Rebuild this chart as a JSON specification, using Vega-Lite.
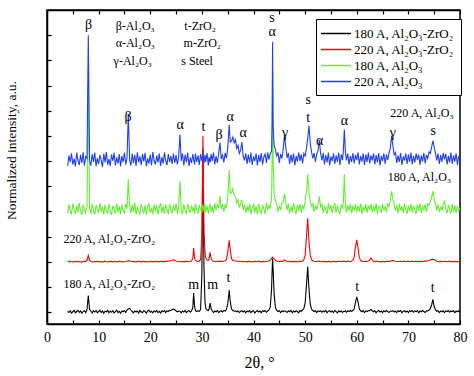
{
"$schema": "https://vega.github.io/schema/vega-lite/v6.json",
"autosize": {"type": "none"},
"padding": {"left": 47, "top": 10, "right": 14, "bottom": 52},
"width": 413,
"height": 314,
"background": "white",
"datasets": {
"xrd": [
{"x":4.0,"k":0.03,"r":2.01,"g":3.92,"b":5.80},
{"x":4.25,"k":-0.02,"r":1.99,"g":4.28,"b":6.22},
{"x":4.5,"k":0.05,"r":2.02,"g":4.05,"b":5.95},
{"x":4.75,"k":-0.04,"r":2.00,"g":3.88,"b":6.31},
{"x":5.0,"k":0.01,"r":1.99,"g":4.31,"b":5.86},
{"x":5.25,"k":0.06,"r":2.01,"g":4.12,"b":6.10},
{"x":5.5,"k":-0.03,"r":2.00,"g":3.90,"b":5.78},
{"x":5.75,"k":0.02,"r":2.02,"g":4.22,"b":6.33},
{"x":6.0,"k":0.07,"r":1.99,"g":3.97,"b":6.02},
{"x":6.25,"k":-0.01,"r":2.01,"g":4.34,"b":5.84},
{"x":6.5,"k":0.04,"r":2.00,"g":4.00,"b":6.25},
{"x":6.75,"k":-0.05,"r":1.98,"g":3.86,"b":5.92},
{"x":7.0,"k":0.02,"r":2.01,"g":4.26,"b":6.35},
{"x":7.25,"k":0.05,"r":2.02,"g":4.08,"b":5.81},
{"x":7.5,"k":-0.02,"r":2.00,"g":3.94,"b":6.18},
{"x":7.75,"k":0.10,"r":2.06,"g":4.20,"b":6.10},
{"x":8.0,"k":0.65,"r":2.25,"g":9.0,"b":11.0},
{"x":8.25,"k":0.10,"r":2.05,"g":4.15,"b":6.00},
{"x":8.5,"k":0.03,"r":2.01,"g":3.90,"b":5.82},
{"x":8.75,"k":-0.04,"r":2.00,"g":4.30,"b":6.28},
{"x":9.0,"k":0.05,"r":1.99,"g":4.02,"b":5.96},
{"x":9.25,"k":0.00,"r":2.01,"g":3.87,"b":6.34},
{"x":9.5,"k":0.06,"r":2.00,"g":4.24,"b":5.79},
{"x":9.75,"k":-0.03,"r":2.02,"g":4.10,"b":6.12},
{"x":10.0,"k":0.02,"r":1.99,"g":3.93,"b":5.88},
{"x":10.25,"k":0.07,"r":2.01,"g":4.33,"b":6.24},
{"x":10.5,"k":-0.02,"r":2.00,"g":3.98,"b":6.04},
{"x":10.75,"k":0.04,"r":1.98,"g":4.18,"b":5.76},
{"x":11.0,"k":-0.05,"r":2.01,"g":3.89,"b":6.30},
{"x":11.25,"k":0.03,"r":2.02,"g":4.27,"b":5.94},
{"x":11.5,"k":0.01,"r":2.00,"g":4.06,"b":6.36},
{"x":11.75,"k":0.06,"r":1.99,"g":3.91,"b":5.85},
{"x":12.0,"k":-0.03,"r":2.01,"g":4.30,"b":6.08},
{"x":12.25,"k":0.04,"r":2.00,"g":4.00,"b":5.80},
{"x":12.5,"k":-0.01,"r":2.02,"g":3.86,"b":6.26},
{"x":12.75,"k":0.05,"r":1.99,"g":4.22,"b":6.00},
{"x":13.0,"k":-0.04,"r":2.01,"g":4.08,"b":6.33},
{"x":13.25,"k":0.02,"r":2.00,"g":3.92,"b":5.83},
{"x":13.5,"k":0.07,"r":2.01,"g":4.32,"b":6.15},
{"x":13.75,"k":-0.02,"r":1.99,"g":3.96,"b":5.90},
{"x":14.0,"k":0.03,"r":2.02,"g":4.20,"b":6.28},
{"x":14.25,"k":-0.05,"r":2.00,"g":3.88,"b":5.78},
{"x":14.5,"k":0.04,"r":2.01,"g":4.26,"b":6.20},
{"x":14.75,"k":0.01,"r":1.99,"g":4.04,"b":5.96},
{"x":15.0,"k":0.06,"r":2.00,"g":3.90,"b":6.34},
{"x":15.25,"k":-0.02,"r":2.02,"g":4.30,"b":5.86},
{"x":15.5,"k":0.08,"r":2.02,"g":4.10,"b":6.12},
{"x":15.75,"k":0.12,"r":2.04,"g":5.27,"b":7.88},
{"x":16.0,"k":0.15,"r":2.04,"g":4.22,"b":6.05},
{"x":16.25,"k":0.08,"r":2.02,"g":3.92,"b":5.82},
{"x":16.5,"k":0.02,"r":2.00,"g":4.28,"b":6.30},
{"x":16.75,"k":-0.03,"r":2.01,"g":3.98,"b":5.92},
{"x":17.0,"k":0.05,"r":1.99,"g":4.34,"b":6.25},
{"x":17.25,"k":0.00,"r":2.01,"g":3.88,"b":5.80},
{"x":17.5,"k":0.04,"r":2.00,"g":4.16,"b":6.35},
{"x":17.75,"k":-0.04,"r":2.02,"g":4.02,"b":5.95},
{"x":18.0,"k":0.06,"r":1.99,"g":3.90,"b":6.18},
{"x":18.25,"k":0.01,"r":2.01,"g":4.30,"b":5.84},
{"x":18.5,"k":-0.03,"r":2.00,"g":4.06,"b":6.28},
{"x":18.75,"k":0.05,"r":2.02,"g":3.94,"b":5.98},
{"x":19.0,"k":0.02,"r":1.99,"g":4.24,"b":6.32},
{"x":19.25,"k":-0.05,"r":2.01,"g":3.87,"b":5.79},
{"x":19.5,"k":0.04,"r":2.00,"g":4.18,"b":6.10},
{"x":19.75,"k":0.07,"r":1.99,"g":4.32,"b":5.90},
{"x":20.0,"k":-0.01,"r":2.02,"g":3.96,"b":6.26},
{"x":20.25,"k":0.03,"r":2.00,"g":4.10,"b":5.82},
{"x":20.5,"k":-0.03,"r":2.01,"g":3.90,"b":6.36},
{"x":20.75,"k":0.05,"r":1.99,"g":4.28,"b":6.02},
{"x":21.0,"k":0.00,"r":2.02,"g":4.00,"b":5.86},
{"x":21.25,"k":0.06,"r":2.00,"g":4.26,"b":6.22},
{"x":21.5,"k":-0.02,"r":2.01,"g":3.88,"b":5.94},
{"x":21.75,"k":0.03,"r":1.99,"g":4.14,"b":6.30},
{"x":22.0,"k":-0.04,"r":2.02,"g":4.33,"b":5.80},
{"x":22.25,"k":0.05,"r":2.00,"g":3.95,"b":6.16},
{"x":22.5,"k":0.01,"r":2.01,"g":4.20,"b":5.90},
{"x":22.75,"k":0.06,"r":2.00,"g":3.90,"b":6.34},
{"x":23.0,"k":-0.02,"r":2.02,"g":4.28,"b":6.00},
{"x":23.25,"k":0.04,"r":2.01,"g":4.04,"b":5.84},
{"x":23.5,"k":0.02,"r":2.02,"g":3.92,"b":6.28},
{"x":23.75,"k":0.07,"r":2.03,"g":4.30,"b":5.96},
{"x":24.0,"k":0.06,"r":2.04,"g":4.06,"b":6.20},
{"x":24.25,"k":0.10,"r":2.05,"g":3.94,"b":5.88},
{"x":24.5,"k":0.12,"r":2.08,"g":4.26,"b":6.30},
{"x":24.75,"k":0.09,"r":2.05,"g":4.00,"b":5.92},
{"x":25.0,"k":0.05,"r":2.03,"g":4.32,"b":6.24},
{"x":25.25,"k":0.01,"r":2.02,"g":3.90,"b":5.86},
{"x":25.5,"k":0.04,"r":2.01,"g":4.18,"b":6.18},
{"x":25.75,"k":0.03,"r":2.00,"g":5.20,"b":7.05},
{"x":26.0,"k":-0.03,"r":2.01,"g":4.06,"b":6.00},
{"x":26.25,"k":0.04,"r":1.99,"g":3.88,"b":6.30},
{"x":26.5,"k":0.00,"r":2.01,"g":4.28,"b":5.82},
{"x":26.75,"k":0.06,"r":2.00,"g":4.02,"b":6.26},
{"x":27.0,"k":-0.02,"r":2.02,"g":3.92,"b":5.94},
{"x":27.25,"k":0.03,"r":2.01,"g":4.30,"b":6.34},
{"x":27.5,"k":0.05,"r":2.00,"g":4.10,"b":5.80},
{"x":27.75,"k":-0.01,"r":2.02,"g":3.94,"b":6.14},
{"x":28.0,"k":0.04,"r":2.03,"g":4.24,"b":5.92},
{"x":28.25,"k":0.18,"r":2.14,"g":4.00,"b":6.28},
{"x":28.4,"k":0.75,"r":2.54,"g":4.16,"b":6.06},
{"x":28.6,"k":0.20,"r":2.14,"g":3.90,"b":5.86},
{"x":28.75,"k":0.06,"r":2.04,"g":4.30,"b":6.30},
{"x":29.0,"k":0.02,"r":2.02,"g":4.04,"b":5.96},
{"x":29.25,"k":0.05,"r":2.01,"g":3.92,"b":6.22},
{"x":29.5,"k":0.03,"r":2.03,"g":4.26,"b":5.84},
{"x":29.75,"k":0.10,"r":2.08,"g":4.08,"b":6.28},
{"x":30.0,"k":1.5,"r":3.0,"g":3.94,"b":6.00},
{"x":30.2,"k":6.5,"r":7.0,"g":4.28,"b":6.30},
{"x":30.4,"k":1.8,"r":3.2,"g":4.02,"b":5.90},
{"x":30.6,"k":0.40,"r":2.40,"g":4.30,"b":6.24},
{"x":30.75,"k":0.15,"r":2.15,"g":3.96,"b":5.96},
{"x":31.0,"k":0.08,"r":2.06,"g":4.22,"b":6.32},
{"x":31.25,"k":0.06,"r":2.05,"g":3.90,"b":5.82},
{"x":31.4,"k":0.12,"r":2.12,"g":4.14,"b":6.16},
{"x":31.6,"k":0.35,"r":2.37,"g":4.30,"b":5.94},
{"x":31.8,"k":0.12,"r":2.12,"g":3.98,"b":6.28},
{"x":32.0,"k":0.05,"r":2.04,"g":4.20,"b":6.00},
{"x":32.25,"k":-0.02,"r":2.02,"g":3.92,"b":6.34},
{"x":32.5,"k":0.04,"r":2.01,"g":4.32,"b":5.86},
{"x":32.75,"k":0.01,"r":2.00,"g":4.06,"b":6.20},
{"x":33.0,"k":0.06,"r":2.01,"g":4.26,"b":5.92},
{"x":33.25,"k":-0.02,"r":2.02,"g":4.15,"b":6.30},
{"x":33.5,"k":0.03,"r":2.01,"g":4.60,"b":6.73},
{"x":33.75,"k":0.05,"r":2.02,"g":4.10,"b":6.08},
{"x":34.0,"k":0.00,"r":2.01,"g":4.30,"b":6.26},
{"x":34.25,"k":0.06,"r":2.03,"g":3.98,"b":5.94},
{"x":34.5,"k":0.04,"r":2.04,"g":4.26,"b":6.32},
{"x":34.75,"k":0.10,"r":2.08,"g":4.12,"b":6.10},
{"x":35.0,"k":0.30,"r":2.35,"g":4.55,"b":6.50},
{"x":35.3,"k":0.87,"r":2.85,"g":5.64,"b":7.44},
{"x":35.5,"k":0.40,"r":2.45,"g":4.70,"b":6.75},
{"x":35.75,"k":0.12,"r":2.12,"g":4.75,"b":6.80},
{"x":36.0,"k":0.06,"r":2.05,"g":4.90,"b":6.95},
{"x":36.25,"k":0.03,"r":2.04,"g":4.65,"b":6.72},
{"x":36.5,"k":0.05,"r":2.03,"g":4.60,"b":6.85},
{"x":36.75,"k":0.01,"r":2.02,"g":4.35,"b":6.50},
{"x":37.0,"k":0.04,"r":2.02,"g":4.45,"b":6.62},
{"x":37.25,"k":-0.02,"r":2.01,"g":4.15,"b":6.30},
{"x":37.5,"k":0.03,"r":2.00,"g":4.30,"b":6.42},
{"x":37.75,"k":0.05,"r":2.02,"g":4.45,"b":6.75},
{"x":38.0,"k":0.00,"r":2.01,"g":4.05,"b":6.20},
{"x":38.25,"k":0.05,"r":2.00,"g":4.28,"b":6.02},
{"x":38.5,"k":-0.03,"r":2.01,"g":3.94,"b":6.30},
{"x":38.75,"k":0.04,"r":1.99,"g":4.20,"b":5.88},
{"x":39.0,"k":0.01,"r":2.02,"g":4.00,"b":6.26},
{"x":39.25,"k":0.06,"r":2.00,"g":4.32,"b":5.94},
{"x":39.5,"k":-0.02,"r":2.01,"g":3.90,"b":6.34},
{"x":39.75,"k":0.03,"r":2.00,"g":4.16,"b":5.84},
{"x":40.0,"k":0.05,"r":1.99,"g":4.28,"b":6.18},
{"x":40.25,"k":-0.04,"r":2.02,"g":3.96,"b":6.00},
{"x":40.5,"k":0.02,"r":2.00,"g":4.22,"b":6.30},
{"x":40.75,"k":0.06,"r":2.01,"g":3.88,"b":5.82},
{"x":41.0,"k":0.00,"r":2.02,"g":4.30,"b":6.24},
{"x":41.25,"k":0.04,"r":2.00,"g":4.04,"b":5.96},
{"x":41.5,"k":-0.03,"r":2.01,"g":3.92,"b":6.32},
{"x":41.75,"k":0.05,"r":1.99,"g":4.26,"b":5.86},
{"x":42.0,"k":0.02,"r":2.02,"g":4.10,"b":6.16},
{"x":42.25,"k":0.06,"r":2.00,"g":3.90,"b":6.28},
{"x":42.5,"k":-0.01,"r":2.01,"g":4.32,"b":5.92},
{"x":42.75,"k":0.04,"r":2.02,"g":4.06,"b":6.34},
{"x":43.0,"k":0.08,"r":2.03,"g":4.25,"b":6.05},
{"x":43.25,"k":0.20,"r":2.06,"g":4.10,"b":6.30},
{"x":43.5,"k":0.9,"r":2.12,"g":4.50,"b":6.40},
{"x":43.6,"k":1.6,"r":2.16,"g":6.0,"b":7.5},
{"x":43.7,"k":2.13,"r":2.18,"g":9.6,"b":10.74},
{"x":43.8,"k":1.7,"r":2.15,"g":6.0,"b":7.4},
{"x":44.0,"k":0.70,"r":2.10,"g":4.70,"b":6.60},
{"x":44.25,"k":0.18,"r":2.05,"g":4.40,"b":6.45},
{"x":44.5,"k":0.06,"r":2.02,"g":4.28,"b":6.20},
{"x":44.75,"k":0.02,"r":2.01,"g":3.98,"b":6.34},
{"x":45.0,"k":0.05,"r":2.00,"g":4.22,"b":5.92},
{"x":45.25,"k":-0.02,"r":2.02,"g":4.05,"b":6.28},
{"x":45.5,"k":0.04,"r":2.01,"g":4.34,"b":6.10},
{"x":45.75,"k":0.02,"r":2.03,"g":4.35,"b":6.45},
{"x":46.0,"k":0.05,"r":2.07,"g":4.70,"b":7.02},
{"x":46.25,"k":0.03,"r":2.04,"g":4.40,"b":6.55},
{"x":46.5,"k":-0.02,"r":2.01,"g":4.05,"b":6.12},
{"x":46.75,"k":0.05,"r":2.00,"g":4.30,"b":6.32},
{"x":47.0,"k":0.01,"r":2.02,"g":3.92,"b":5.88},
{"x":47.25,"k":0.06,"r":2.00,"g":4.20,"b":6.26},
{"x":47.5,"k":-0.03,"r":2.01,"g":3.96,"b":5.94},
{"x":47.75,"k":0.04,"r":1.99,"g":4.32,"b":6.30},
{"x":48.0,"k":0.00,"r":2.02,"g":4.08,"b":5.82},
{"x":48.25,"k":0.05,"r":2.00,"g":3.90,"b":6.20},
{"x":48.5,"k":0.02,"r":2.01,"g":4.26,"b":5.98},
{"x":48.75,"k":-0.03,"r":2.00,"g":4.02,"b":6.34},
{"x":49.0,"k":0.06,"r":2.02,"g":4.30,"b":6.00},
{"x":49.25,"k":0.03,"r":2.01,"g":3.94,"b":6.26},
{"x":49.5,"k":0.08,"r":2.03,"g":4.22,"b":5.90},
{"x":49.75,"k":0.14,"r":2.08,"g":4.10,"b":6.30},
{"x":50.0,"k":0.35,"r":2.25,"g":4.40,"b":6.20},
{"x":50.25,"k":1.05,"r":2.95,"g":4.80,"b":6.50},
{"x":50.5,"k":1.80,"r":3.72,"g":5.47,"b":6.90},
{"x":50.75,"k":0.90,"r":2.80,"g":4.75,"b":7.41},
{"x":51.0,"k":0.30,"r":2.25,"g":4.40,"b":6.70},
{"x":51.25,"k":0.12,"r":2.08,"g":4.20,"b":6.35},
{"x":51.5,"k":0.06,"r":2.04,"g":4.30,"b":6.10},
{"x":51.75,"k":0.02,"r":2.02,"g":3.98,"b":6.32},
{"x":52.0,"k":0.05,"r":2.01,"g":4.24,"b":5.96},
{"x":52.25,"k":-0.02,"r":2.00,"g":4.06,"b":6.28},
{"x":52.5,"k":0.04,"r":2.01,"g":4.30,"b":6.40},
{"x":52.75,"k":0.02,"r":2.02,"g":4.60,"b":6.85},
{"x":53.0,"k":0.05,"r":2.01,"g":4.15,"b":6.30},
{"x":53.25,"k":-0.01,"r":2.00,"g":4.28,"b":6.02},
{"x":53.5,"k":0.04,"r":2.02,"g":3.94,"b":6.32},
{"x":53.75,"k":0.01,"r":2.00,"g":4.22,"b":5.86},
{"x":54.0,"k":0.06,"r":2.01,"g":4.04,"b":6.24},
{"x":54.25,"k":-0.03,"r":1.99,"g":3.90,"b":5.94},
{"x":54.5,"k":0.03,"r":2.02,"g":4.32,"b":6.34},
{"x":54.75,"k":0.05,"r":2.00,"g":4.06,"b":5.82},
{"x":55.0,"k":0.00,"r":2.01,"g":4.26,"b":6.18},
{"x":55.25,"k":0.04,"r":1.99,"g":3.92,"b":6.00},
{"x":55.5,"k":-0.02,"r":2.02,"g":4.18,"b":6.30},
{"x":55.75,"k":0.06,"r":2.00,"g":4.30,"b":5.88},
{"x":56.0,"k":0.02,"r":2.01,"g":3.96,"b":6.22},
{"x":56.25,"k":-0.04,"r":2.00,"g":4.24,"b":5.96},
{"x":56.5,"k":0.05,"r":2.02,"g":4.02,"b":6.34},
{"x":56.75,"k":0.01,"r":2.01,"g":3.90,"b":5.84},
{"x":57.0,"k":0.04,"r":2.00,"g":4.28,"b":6.26},
{"x":57.25,"k":-0.02,"r":2.02,"g":4.10,"b":6.04},
{"x":57.4,"k":0.03,"r":2.01,"g":4.35,"b":6.40},
{"x":57.6,"k":0.02,"r":2.02,"g":5.47,"b":7.25},
{"x":57.8,"k":0.05,"r":2.00,"g":4.30,"b":6.35},
{"x":58.0,"k":-0.01,"r":2.01,"g":3.96,"b":6.02},
{"x":58.25,"k":0.04,"r":2.02,"g":4.26,"b":6.30},
{"x":58.5,"k":0.02,"r":2.00,"g":4.02,"b":5.86},
{"x":58.75,"k":0.06,"r":2.01,"g":4.30,"b":6.20},
{"x":59.0,"k":0.03,"r":2.03,"g":3.92,"b":5.96},
{"x":59.25,"k":0.06,"r":2.06,"g":4.20,"b":6.32},
{"x":59.5,"k":0.12,"r":2.18,"g":4.05,"b":5.90},
{"x":59.75,"k":0.38,"r":2.60,"g":4.28,"b":6.24},
{"x":60.0,"k":0.60,"r":2.87,"g":3.96,"b":6.04},
{"x":60.25,"k":0.40,"r":2.55,"g":4.22,"b":6.34},
{"x":60.5,"k":0.12,"r":2.16,"g":4.00,"b":5.86},
{"x":60.75,"k":0.05,"r":2.05,"g":4.32,"b":6.20},
{"x":61.0,"k":0.01,"r":2.02,"g":3.90,"b":5.98},
{"x":61.25,"k":0.06,"r":2.01,"g":4.18,"b":6.30},
{"x":61.5,"k":-0.02,"r":2.00,"g":4.02,"b":5.84},
{"x":61.75,"k":0.04,"r":2.02,"g":4.30,"b":6.26},
{"x":62.0,"k":0.02,"r":2.01,"g":3.94,"b":5.96},
{"x":62.25,"k":0.06,"r":2.03,"g":4.24,"b":6.34},
{"x":62.5,"k":0.05,"r":2.06,"g":4.06,"b":5.90},
{"x":62.75,"k":0.10,"r":2.15,"g":4.30,"b":6.22},
{"x":63.0,"k":0.05,"r":2.06,"g":3.96,"b":6.02},
{"x":63.25,"k":0.01,"r":2.02,"g":4.20,"b":6.30},
{"x":63.5,"k":0.05,"r":2.00,"g":4.00,"b":5.86},
{"x":63.75,"k":-0.03,"r":2.01,"g":4.32,"b":6.24},
{"x":64.0,"k":0.03,"r":2.02,"g":3.90,"b":5.94},
{"x":64.25,"k":0.06,"r":2.00,"g":4.24,"b":6.32},
{"x":64.5,"k":0.00,"r":2.01,"g":4.08,"b":5.82},
{"x":64.75,"k":0.04,"r":1.99,"g":3.94,"b":6.20},
{"x":65.0,"k":-0.02,"r":2.02,"g":4.30,"b":6.00},
{"x":65.25,"k":0.05,"r":2.00,"g":4.04,"b":6.30},
{"x":65.5,"k":0.01,"r":2.01,"g":4.22,"b":5.88},
{"x":65.75,"k":0.06,"r":2.00,"g":3.96,"b":6.26},
{"x":66.0,"k":0.02,"r":2.02,"g":4.30,"b":6.04},
{"x":66.25,"k":-0.02,"r":2.01,"g":4.20,"b":6.32},
{"x":66.5,"k":0.04,"r":2.02,"g":4.45,"b":6.50},
{"x":66.75,"k":0.03,"r":2.04,"g":4.80,"b":7.00},
{"x":67.0,"k":0.05,"r":2.05,"g":4.50,"b":6.60},
{"x":67.25,"k":0.00,"r":2.03,"g":4.30,"b":6.25},
{"x":67.5,"k":0.04,"r":2.02,"g":4.02,"b":6.34},
{"x":67.75,"k":-0.02,"r":2.01,"g":4.26,"b":5.92},
{"x":68.0,"k":0.05,"r":2.00,"g":3.92,"b":6.22},
{"x":68.25,"k":0.02,"r":2.01,"g":4.30,"b":5.96},
{"x":68.5,"k":0.06,"r":2.02,"g":4.04,"b":6.32},
{"x":68.75,"k":-0.03,"r":2.00,"g":4.20,"b":5.84},
{"x":69.0,"k":0.03,"r":2.01,"g":3.94,"b":6.18},
{"x":69.25,"k":0.05,"r":2.02,"g":4.32,"b":6.02},
{"x":69.5,"k":0.00,"r":2.00,"g":4.08,"b":6.30},
{"x":69.75,"k":0.04,"r":2.01,"g":3.90,"b":5.88},
{"x":70.0,"k":-0.02,"r":2.02,"g":4.24,"b":6.26},
{"x":70.25,"k":0.05,"r":2.00,"g":4.00,"b":5.96},
{"x":70.5,"k":0.02,"r":2.01,"g":4.30,"b":6.34},
{"x":70.75,"k":0.06,"r":2.02,"g":3.96,"b":5.86},
{"x":71.0,"k":-0.01,"r":2.00,"g":4.22,"b":6.20},
{"x":71.25,"k":0.04,"r":2.01,"g":4.06,"b":5.94},
{"x":71.5,"k":0.02,"r":2.02,"g":3.90,"b":6.30},
{"x":71.75,"k":0.05,"r":2.00,"g":4.28,"b":6.04},
{"x":72.0,"k":-0.03,"r":2.01,"g":4.02,"b":6.26},
{"x":72.25,"k":0.04,"r":2.02,"g":4.32,"b":5.84},
{"x":72.5,"k":0.01,"r":2.00,"g":3.94,"b":6.22},
{"x":72.75,"k":0.06,"r":2.01,"g":4.20,"b":5.98},
{"x":73.0,"k":0.02,"r":2.02,"g":4.06,"b":6.32},
{"x":73.25,"k":-0.02,"r":2.03,"g":4.28,"b":5.90},
{"x":73.5,"k":0.05,"r":2.02,"g":3.98,"b":6.24},
{"x":73.75,"k":0.04,"r":2.04,"g":4.30,"b":6.10},
{"x":74.0,"k":0.08,"r":2.05,"g":4.24,"b":6.36},
{"x":74.25,"k":0.14,"r":2.07,"g":4.40,"b":6.30},
{"x":74.5,"k":0.28,"r":2.09,"g":4.55,"b":6.55},
{"x":74.75,"k":0.50,"r":2.10,"g":4.80,"b":6.80},
{"x":75.0,"k":0.22,"r":2.08,"g":4.50,"b":6.55},
{"x":75.25,"k":0.08,"r":2.05,"g":4.30,"b":6.30},
{"x":75.5,"k":0.03,"r":2.02,"g":4.04,"b":6.02},
{"x":75.75,"k":0.05,"r":2.01,"g":4.28,"b":6.30},
{"x":76.0,"k":-0.02,"r":2.00,"g":3.96,"b":5.88},
{"x":76.25,"k":0.04,"r":2.02,"g":4.20,"b":6.24},
{"x":76.5,"k":0.01,"r":2.01,"g":4.02,"b":5.96},
{"x":76.75,"k":0.05,"r":2.00,"g":4.30,"b":6.32},
{"x":77.0,"k":-0.02,"r":2.02,"g":4.40,"b":6.06},
{"x":77.25,"k":0.04,"r":2.01,"g":4.10,"b":6.28},
{"x":77.5,"k":0.02,"r":2.00,"g":3.92,"b":5.86},
{"x":77.75,"k":0.06,"r":2.01,"g":4.26,"b":6.20},
{"x":78.0,"k":-0.01,"r":2.02,"g":4.04,"b":5.94},
{"x":78.25,"k":0.04,"r":2.00,"g":3.90,"b":6.34},
{"x":78.5,"k":0.02,"r":2.01,"g":4.30,"b":5.88},
{"x":78.75,"k":0.05,"r":1.99,"g":4.00,"b":6.22},
{"x":79.0,"k":-0.03,"r":2.02,"g":4.24,"b":5.98},
{"x":79.25,"k":0.04,"r":2.00,"g":3.94,"b":6.30},
{"x":79.5,"k":0.01,"r":2.01,"g":4.22,"b":5.84},
{"x":79.75,"k":0.05,"r":2.00,"g":4.02,"b":6.20},
{"x":80.0,"k":0.00,"r":2.01,"g":4.14,"b":6.00}
],
"peaks": [
{"x":8.05,"y":11.4,"t":"β"},
{"x":15.7,"y":7.74,"t":"β"},
{"x":25.8,"y":7.43,"t":"α"},
{"x":30.3,"y":7.37,"t":"t"},
{"x":33.35,"y":7.04,"t":"β"},
{"x":35.5,"y":7.76,"t":"α"},
{"x":38.0,"y":7.1,"t":"α"},
{"x":43.6,"y":11.7,"t":"s"},
{"x":43.6,"y":11.12,"t":"α"},
{"x":46.1,"y":7.1,"t":"γ"},
{"x":50.6,"y":8.43,"t":"s"},
{"x":50.6,"y":7.7,"t":"t"},
{"x":52.8,"y":6.81,"t":"α"},
{"x":57.6,"y":7.6,"t":"α"},
{"x":67.0,"y":7.13,"t":"γ"},
{"x":74.8,"y":7.2,"t":"s"},
{"x":28.4,"y":1.08,"t":"m"},
{"x":32.1,"y":1.08,"t":"m"},
{"x":35.15,"y":1.35,"t":"t"},
{"x":60.07,"y":0.98,"t":"t"},
{"x":74.7,"y":0.94,"t":"t"}
],
"phases": [
{"x":13.3,"y":11.35,"t":"β-Al₂O₃"},
{"x":13.3,"y":10.67,"t":"α-Al₂O₃"},
{"x":12.9,"y":9.98,"t":"γ-Al₂O₃"},
{"x":26.6,"y":11.35,"t":"t-ZrO₂"},
{"x":26.45,"y":10.67,"t":"m-ZrO₂"},
{"x":26.0,"y":9.98,"t":"s Steel"}
],
"series": [
{"x":66.5,"y":7.9,"t":"220 A, Al₂O₃"},
{"x":66.0,"y":5.38,"t":"180 A, Al₂O₃"},
{"x":3.2,"y":2.9,"t":"220 A, Al₂O₃-ZrO₂"},
{"x":3.2,"y":1.13,"t":"180 A, Al₂O₃-ZrO₂"}
]
},
"layer": [
{
"data": {"name": "xrd"},
"transform": [{"fold": ["k", "r", "g", "b"], "as": ["s", "y"]}],
"mark": {"type": "line", "strokeWidth": 1.1, "clip": true},
"encoding": {
"x": {"field": "x", "type": "quantitative", "scale": {"domain": [0, 80], "nice": false},
"axis": {"orient": "bottom", "values": [0,5,10,15,20,25,30,35,40,45,50,55,60,65,70,75,80], "labelExpr": "datum.value % 10 === 0 ? datum.label : ''", "tickSize": -4, "labelPadding": 10, "labelFontSize": 14, "labelFlush": false, "title": "2θ, °", "titleFontSize": 16, "titleX": 212, "titleY": 38, "titleBaseline": "middle"}},
"y": {"field": "y", "type": "quantitative", "scale": {"domain": [-0.476, 12.0], "nice": false, "zero": false},
"axis": {"values": [0,1,2,3,4,5,6,7,8,9,10,11], "labels": false, "tickSize": -4, "title": "Normalized intensity, a.u.", "titleFontSize": 13.5, "titleX": -36, "titleY": 140, "titleBaseline": "middle", "titleAngle": -90}},
"color": {"field": "s", "type": "nominal",
"scale": {"domain": ["k", "r", "g", "b"], "range": ["#000000", "#ff0000", "#66ee33", "#2040ee"]},
"legend": {"orient": "none", "legendX": 269, "legendY": 9, "title": null,
"labelExpr": "{'k':'180 A, Al₂O₃-ZrO₂','r':'220 A, Al₂O₃-ZrO₂','g':'180 A, Al₂O₃','b':'220 A, Al₂O₃'}[datum.label]",
"strokeColor": "black", "fillColor": "white", "padding": 6, "symbolType": "M-2,0H2", "symbolSize": 225, "symbolStrokeWidth": 1.5, "symbolOffset": 5.5, "labelFont": "Liberation Serif", "labelFontSize": 13, "labelColor": "black", "rowPadding": 0, "labelOffset": 9.5}}
}
},
{
"data": {"name": "peaks"},
"mark": {"type": "text", "font": "Liberation Serif", "fontSize": 14, "align": "center", "baseline": "middle", "color": "black"},
"encoding": {
"x": {"field": "x", "type": "quantitative",
"axis": {"orient": "top", "values": [0,5,10,15,20,25,30,35,40,45,50,55,60,65,70,75,80], "labels": false, "tickSize": -4, "title": null}},
"y": {"field": "y", "type": "quantitative",
"axis": {"values": [0,1,2,3,4,5,6,7,8,9,10,11], "labels": false, "tickSize": -4, "title": "Normalized intensity, a.u.", "titleFontSize": 13.5, "titleX": -36, "titleY": 140, "titleBaseline": "middle", "titleAngle": -90}},
"text": {"field": "t"}
}
},
{
"data": {"name": "phases"},
"mark": {"type": "text", "font": "Liberation Serif", "fontSize": 12, "align": "left", "baseline": "middle", "color": "black"},
"encoding": {
"x": {"field": "x", "type": "quantitative", "axis": null},
"y": {"field": "y", "type": "quantitative",
"axis": {"values": [0,1,2,3,4,5,6,7,8,9,10,11], "labels": false, "tickSize": -4, "title": "Normalized intensity, a.u.", "titleFontSize": 13.5, "titleX": -36, "titleY": 140, "titleBaseline": "middle", "titleAngle": -90}},
"text": {"field": "t"}
}
},
{
"data": {"name": "series"},
"mark": {"type": "text", "font": "Liberation Serif", "fontSize": 12, "align": "left", "baseline": "middle", "color": "black"},
"encoding": {
"x": {"field": "x", "type": "quantitative", "axis": null},
"y": {"field": "y", "type": "quantitative",
"axis": {"values": [0,1,2,3,4,5,6,7,8,9,10,11], "labels": false, "tickSize": -4, "title": "Normalized intensity, a.u.", "titleFontSize": 13.5, "titleX": -36, "titleY": 140, "titleBaseline": "middle", "titleAngle": -90}},
"text": {"field": "t"}
}
}
],
"resolve": {"axis": {"x": "independent"}},
"config": {
"view": {"stroke": "black", "strokeWidth": 1.5},
"axis": {"domainColor": "black", "domainWidth": 1.5, "tickColor": "black", "tickWidth": 1.2, "grid": false, "labelFont": "Liberation Serif", "titleFont": "Liberation Serif", "labelColor": "black", "titleColor": "black", "titleFontWeight": "normal"}
}
}
